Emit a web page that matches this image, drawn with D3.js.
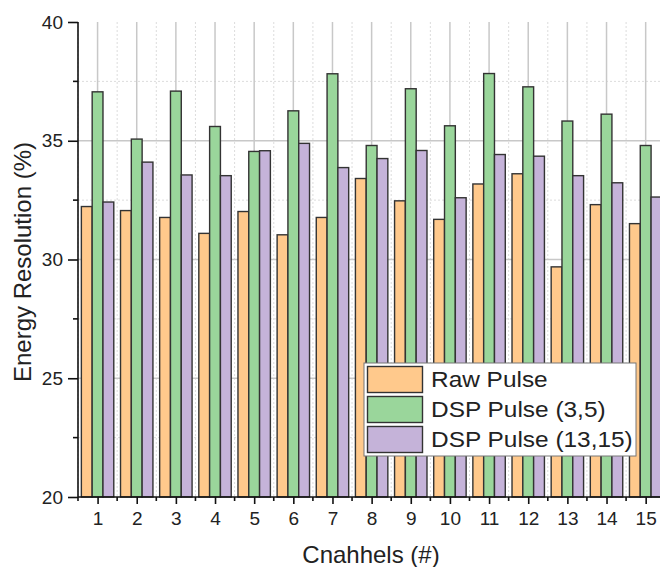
<!DOCTYPE html>
<html>
<head>
<meta charset="utf-8">
<script src="https://cdn.jsdelivr.net/npm/d3@7/dist/d3.min.js"></script>
<style>
  html, body { margin: 0; padding: 0; background: #fff; }
  svg { display: block; font-family: "Liberation Sans", Arial, sans-serif; }
</style>
</head>
<body>
<svg id="chart" width="660" height="567"></svg>
<script>
// Channel numbers and energy resolution (%) per pulse-processing method
const channels = [1, 2, 3, 4, 5, 6, 7, 8, 9, 10, 11, 12, 13, 14, 15];
const rawPulse = [32.23, 32.06, 31.77, 31.10, 32.02, 31.04, 31.77, 33.41, 32.47, 31.69, 33.18, 33.61, 29.69, 32.31, 31.51];
const dspPulse35 = [37.06, 35.07, 37.09, 35.60, 34.55, 36.26, 37.82, 34.80, 37.19, 35.63, 37.83, 37.27, 35.83, 36.12, 34.80];
const dspPulse1315 = [32.42, 34.10, 33.56, 33.53, 34.58, 34.89, 33.87, 34.25, 34.59, 32.60, 34.42, 34.35, 33.53, 33.23, 32.63];
const seriesNames = ["Raw Pulse", "DSP Pulse (3,5)", "DSP Pulse (13,15)"];
const yMajorTicks = [20, 25, 30, 35, 40];
const yMinorTicks = [22.5, 27.5, 32.5, 37.5];
const xMinorTicks = d3.range(0.5, 16, 1);

const colors = ["#ffc98c", "#9ad69b", "#c5b3d9"];
const series = [rawPulse, dspPulse35, dspPulse1315];

const svg = d3.select("#chart");
const plotLeft = 78, plotTop = 22, plotBottom = 497;
const step = 39.15;

const x = d3.scaleLinear().domain([0.5, 15.5]).range([plotLeft, plotLeft + 15 * step]);
const y = d3.scaleLinear().domain([20, 40]).range([plotBottom, plotTop]);

// Bars sit inside each channel slot: three equal bars per group
const groupWidth = 0.828; // in channel units
const bar = groupWidth / 3;

// Grid
const grid = svg.append("g");
grid.selectAll("line.vminor").data(xMinorTicks).join("line")
  .attr("x1", d => x(d)).attr("x2", d => x(d))
  .attr("y1", plotTop).attr("y2", plotBottom)
  .attr("stroke", "#dcdcdc").attr("stroke-width", 1).attr("stroke-dasharray", "2,2");
grid.selectAll("line.hminor").data(yMinorTicks).join("line")
  .attr("x1", plotLeft).attr("x2", 660)
  .attr("y1", d => y(d)).attr("y2", d => y(d))
  .attr("stroke", "#dcdcdc").attr("stroke-width", 1).attr("stroke-dasharray", "2,2");
grid.selectAll("line.vmajor").data(channels).join("line")
  .attr("x1", d => x(d)).attr("x2", d => x(d))
  .attr("y1", plotTop).attr("y2", plotBottom)
  .attr("stroke", "#c8c8c8").attr("stroke-width", 1.5);
grid.selectAll("line.hmajor").data([25, 30, 35]).join("line")
  .attr("x1", plotLeft).attr("x2", 660)
  .attr("y1", d => y(d)).attr("y2", d => y(d))
  .attr("stroke", "#c8c8c8").attr("stroke-width", 1.5);

// Bars
series.forEach((vals, si) => {
  svg.append("g").selectAll("rect").data(vals).join("rect")
    .attr("x", (d, i) => x(channels[i] - groupWidth / 2 + si * bar))
    .attr("width", x(1 + bar) - x(1))
    .attr("y", d => y(d))
    .attr("height", d => y(20) - y(d))
    .attr("fill", colors[si])
    .attr("stroke", "#333")
    .attr("stroke-width", 1.4);
});

// Axes
const yAxis = d3.axisLeft(y).tickValues(yMajorTicks).tickSize(10).tickPadding(5).tickFormat(d3.format("d"));
const yg = svg.append("g").attr("transform", `translate(${plotLeft},0)`).call(yAxis);
yg.select(".domain").attr("stroke", "#111").attr("stroke-width", 1.6).attr("d", `M0,${plotTop}V${plotBottom}`);
yg.selectAll(".tick line").attr("stroke", "#111").attr("stroke-width", 1.6);
yg.selectAll(".tick text").attr("font-size", 19).attr("fill", "#222").attr("font-family", "Liberation Sans, Arial, sans-serif");
yg.selectAll("line.minor").data(yMinorTicks).join("line")
  .attr("class", "minor")
  .attr("x1", -5).attr("x2", 0).attr("y1", d => y(d)).attr("y2", d => y(d))
  .attr("stroke", "#111").attr("stroke-width", 1.6);

const xAxis = d3.axisBottom(x).tickValues(channels).tickSize(7).tickPadding(8).tickFormat(d3.format("d"));
const xg = svg.append("g").attr("transform", `translate(0,${plotBottom})`).call(xAxis);
xg.select(".domain").attr("stroke", "#111").attr("stroke-width", 1.6).attr("d", `M${plotLeft},0H660`);
xg.selectAll(".tick line").attr("stroke", "#111").attr("stroke-width", 1.6);
xg.selectAll(".tick text").attr("font-size", 19).attr("fill", "#222").attr("font-family", "Liberation Sans, Arial, sans-serif");
xg.selectAll("line.minor").data(xMinorTicks).join("line")
  .attr("class", "minor")
  .attr("x1", d => x(d)).attr("x2", d => x(d)).attr("y1", 0).attr("y2", 4)
  .attr("stroke", "#111").attr("stroke-width", 1.6);

// Axis titles
svg.append("text")
  .attr("x", 371).attr("y", 563)
  .attr("text-anchor", "middle").attr("font-size", 24).attr("fill", "#222")
  .text("Cnahhels (#)");
svg.append("text")
  .attr("transform", "translate(31,262) rotate(-90)")
  .attr("text-anchor", "middle").attr("font-size", 24).attr("fill", "#222")
  .text("Energy Resolution (%)");

// Legend
const lg = svg.append("g").attr("transform", "translate(364,363)");
lg.append("rect").attr("x", 0).attr("y", 0).attr("width", 272).attr("height", 93)
  .attr("fill", "#fff").attr("stroke", "#777").attr("stroke-width", 1);
seriesNames.forEach((name, i) => {
  lg.append("rect")
    .attr("x", 3.5).attr("y", 3.5 + i * 30).attr("width", 55).attr("height", 26)
    .attr("fill", colors[i]).attr("stroke", "#333").attr("stroke-width", 1.4);
  lg.append("text")
    .attr("transform", `translate(67,${24 + i * 30}) scale(1.11,1)`)
    .attr("font-size", 22).attr("fill", "#222")
    .text(name);
});
</script>
</body>
</html>
